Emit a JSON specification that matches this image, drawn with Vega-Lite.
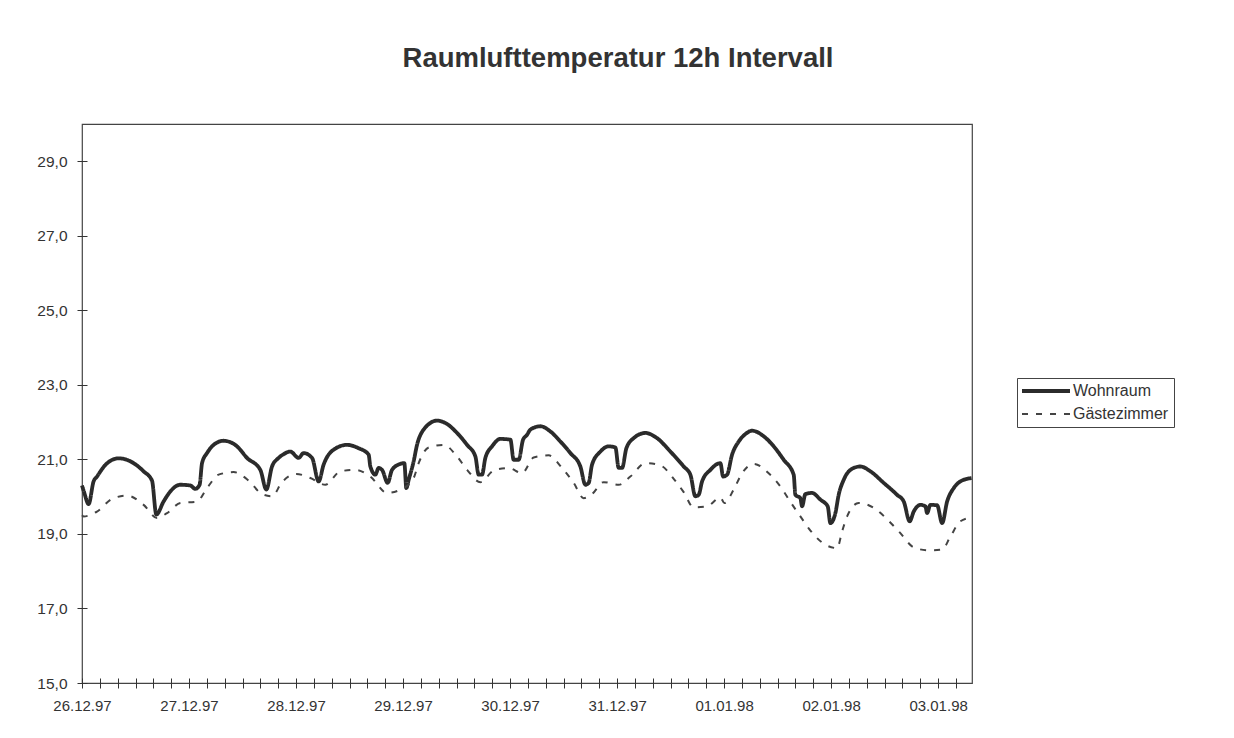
{
  "$schema": "https://vega.github.io/schema/vega-lite/v6.json",
  "width": 890,
  "height": 559,
  "autosize": {"type": "none"},
  "padding": {"left": 82, "top": 124, "right": 262, "bottom": 55},
  "background": "white",
  "title": {"text": "Raumlufttemperatur 12h Intervall", "font": "Liberation Sans", "fontSize": 27.5, "fontWeight": "bold", "color": "#333333", "anchor": "middle", "frame": "group", "dx": 91, "offset": 52},
  "config": {"view": {"stroke": "#444444", "strokeWidth": 1.2}, "font": "Liberation Sans"},
  "data": {"values": [
    {"stunde": 0, "raum": "Wohnraum", "temperatur": 20.30},
    {"stunde": 0.52, "raum": "Wohnraum", "temperatur": 20.10},
    {"stunde": 1.48, "raum": "Wohnraum", "temperatur": 19.80},
    {"stunde": 2.6, "raum": "Wohnraum", "temperatur": 20.41},
    {"stunde": 3.36, "raum": "Wohnraum", "temperatur": 20.54},
    {"stunde": 5.23, "raum": "Wohnraum", "temperatur": 20.85},
    {"stunde": 8.21, "raum": "Wohnraum", "temperatur": 21.03},
    {"stunde": 11.57, "raum": "Wohnraum", "temperatur": 20.90},
    {"stunde": 13.82, "raum": "Wohnraum", "temperatur": 20.68},
    {"stunde": 15.7, "raum": "Wohnraum", "temperatur": 20.43},
    {"stunde": 16.67, "raum": "Wohnraum", "temperatur": 19.52},
    {"stunde": 18.3, "raum": "Wohnraum", "temperatur": 19.87},
    {"stunde": 19.81, "raum": "Wohnraum", "temperatur": 20.14},
    {"stunde": 22.05, "raum": "Wohnraum", "temperatur": 20.32},
    {"stunde": 24.29, "raum": "Wohnraum", "temperatur": 20.30},
    {"stunde": 25.41, "raum": "Wohnraum", "temperatur": 20.21},
    {"stunde": 26.38, "raum": "Wohnraum", "temperatur": 20.32},
    {"stunde": 26.92, "raum": "Wohnraum", "temperatur": 20.90},
    {"stunde": 28.04, "raum": "Wohnraum", "temperatur": 21.17},
    {"stunde": 29.52, "raum": "Wohnraum", "temperatur": 21.39},
    {"stunde": 31.76, "raum": "Wohnraum", "temperatur": 21.50},
    {"stunde": 34.77, "raum": "Wohnraum", "temperatur": 21.35},
    {"stunde": 37.01, "raum": "Wohnraum", "temperatur": 21.04},
    {"stunde": 39.99, "raum": "Wohnraum", "temperatur": 20.72},
    {"stunde": 41.34, "raum": "Wohnraum", "temperatur": 20.19},
    {"stunde": 42.62, "raum": "Wohnraum", "temperatur": 20.81},
    {"stunde": 44.1, "raum": "Wohnraum", "temperatur": 21.04},
    {"stunde": 45.22, "raum": "Wohnraum", "temperatur": 21.14},
    {"stunde": 46.72, "raum": "Wohnraum", "temperatur": 21.21},
    {"stunde": 48.58, "raum": "Wohnraum", "temperatur": 21.04},
    {"stunde": 49.7, "raum": "Wohnraum", "temperatur": 21.17},
    {"stunde": 51.59, "raum": "Wohnraum", "temperatur": 21.04},
    {"stunde": 53.07, "raum": "Wohnraum", "temperatur": 20.41},
    {"stunde": 54.19, "raum": "Wohnraum", "temperatur": 20.86},
    {"stunde": 56.43, "raum": "Wohnraum", "temperatur": 21.26},
    {"stunde": 59.44, "raum": "Wohnraum", "temperatur": 21.39},
    {"stunde": 62.04, "raum": "Wohnraum", "temperatur": 21.30},
    {"stunde": 64.28, "raum": "Wohnraum", "temperatur": 21.13},
    {"stunde": 64.67, "raum": "Wohnraum", "temperatur": 20.81},
    {"stunde": 65.79, "raum": "Wohnraum", "temperatur": 20.59},
    {"stunde": 66.53, "raum": "Wohnraum", "temperatur": 20.77},
    {"stunde": 67.29, "raum": "Wohnraum", "temperatur": 20.72},
    {"stunde": 68.55, "raum": "Wohnraum", "temperatur": 20.37},
    {"stunde": 69.53, "raum": "Wohnraum", "temperatur": 20.72},
    {"stunde": 71.39, "raum": "Wohnraum", "temperatur": 20.88},
    {"stunde": 72.29, "raum": "Wohnraum", "temperatur": 20.90},
    {"stunde": 72.74, "raum": "Wohnraum", "temperatur": 20.23},
    {"stunde": 73.26, "raum": "Wohnraum", "temperatur": 20.45},
    {"stunde": 74.38, "raum": "Wohnraum", "temperatur": 20.95},
    {"stunde": 75.14, "raum": "Wohnraum", "temperatur": 21.39},
    {"stunde": 76.62, "raum": "Wohnraum", "temperatur": 21.80},
    {"stunde": 79.63, "raum": "Wohnraum", "temperatur": 22.04},
    {"stunde": 81.87, "raum": "Wohnraum", "temperatur": 21.95},
    {"stunde": 84.11, "raum": "Wohnraum", "temperatur": 21.71},
    {"stunde": 86.36, "raum": "Wohnraum", "temperatur": 21.39},
    {"stunde": 88.22, "raum": "Wohnraum", "temperatur": 21.08},
    {"stunde": 88.96, "raum": "Wohnraum", "temperatur": 20.59},
    {"stunde": 89.72, "raum": "Wohnraum", "temperatur": 20.59},
    {"stunde": 90.46, "raum": "Wohnraum", "temperatur": 21.04},
    {"stunde": 91.96, "raum": "Wohnraum", "temperatur": 21.35},
    {"stunde": 93.83, "raum": "Wohnraum", "temperatur": 21.55},
    {"stunde": 96.07, "raum": "Wohnraum", "temperatur": 21.53},
    {"stunde": 96.81, "raum": "Wohnraum", "temperatur": 20.99},
    {"stunde": 97.93, "raum": "Wohnraum", "temperatur": 20.99},
    {"stunde": 98.92, "raum": "Wohnraum", "temperatur": 21.53},
    {"stunde": 99.81, "raum": "Wohnraum", "temperatur": 21.66},
    {"stunde": 100.56, "raum": "Wohnraum", "temperatur": 21.80},
    {"stunde": 102.8, "raum": "Wohnraum", "temperatur": 21.89},
    {"stunde": 105.04, "raum": "Wohnraum", "temperatur": 21.75},
    {"stunde": 107.29, "raum": "Wohnraum", "temperatur": 21.48},
    {"stunde": 109.53, "raum": "Wohnraum", "temperatur": 21.17},
    {"stunde": 111.77, "raum": "Wohnraum", "temperatur": 20.81},
    {"stunde": 112.89, "raum": "Wohnraum", "temperatur": 20.32},
    {"stunde": 113.63, "raum": "Wohnraum", "temperatur": 20.37},
    {"stunde": 114.39, "raum": "Wohnraum", "temperatur": 20.86},
    {"stunde": 116.26, "raum": "Wohnraum", "temperatur": 21.21},
    {"stunde": 118.12, "raum": "Wohnraum", "temperatur": 21.35},
    {"stunde": 119.62, "raum": "Wohnraum", "temperatur": 21.32},
    {"stunde": 120.36, "raum": "Wohnraum", "temperatur": 20.77},
    {"stunde": 121.12, "raum": "Wohnraum", "temperatur": 20.77},
    {"stunde": 122.09, "raum": "Wohnraum", "temperatur": 21.30},
    {"stunde": 123.72, "raum": "Wohnraum", "temperatur": 21.57},
    {"stunde": 126.35, "raum": "Wohnraum", "temperatur": 21.71},
    {"stunde": 128.97, "raum": "Wohnraum", "temperatur": 21.57},
    {"stunde": 131.96, "raum": "Wohnraum", "temperatur": 21.21},
    {"stunde": 134.94, "raum": "Wohnraum", "temperatur": 20.81},
    {"stunde": 136.44, "raum": "Wohnraum", "temperatur": 20.59},
    {"stunde": 137.56, "raum": "Wohnraum", "temperatur": 20.01},
    {"stunde": 138.3, "raum": "Wohnraum", "temperatur": 20.05},
    {"stunde": 139.07, "raum": "Wohnraum", "temperatur": 20.41},
    {"stunde": 140.93, "raum": "Wohnraum", "temperatur": 20.72},
    {"stunde": 143.17, "raum": "Wohnraum", "temperatur": 20.90},
    {"stunde": 143.78, "raum": "Wohnraum", "temperatur": 20.54},
    {"stunde": 144.67, "raum": "Wohnraum", "temperatur": 20.59},
    {"stunde": 145.8, "raum": "Wohnraum", "temperatur": 21.13},
    {"stunde": 147.28, "raum": "Wohnraum", "temperatur": 21.48},
    {"stunde": 148.78, "raum": "Wohnraum", "temperatur": 21.68},
    {"stunde": 150.28, "raum": "Wohnraum", "temperatur": 21.77},
    {"stunde": 152.88, "raum": "Wohnraum", "temperatur": 21.62},
    {"stunde": 155.13, "raum": "Wohnraum", "temperatur": 21.35},
    {"stunde": 157.37, "raum": "Wohnraum", "temperatur": 20.99},
    {"stunde": 159.61, "raum": "Wohnraum", "temperatur": 20.59},
    {"stunde": 159.99, "raum": "Wohnraum", "temperatur": 20.05},
    {"stunde": 161.11, "raum": "Wohnraum", "temperatur": 19.96},
    {"stunde": 161.49, "raum": "Wohnraum", "temperatur": 19.74},
    {"stunde": 162.23, "raum": "Wohnraum", "temperatur": 20.07},
    {"stunde": 163.74, "raum": "Wohnraum", "temperatur": 20.10},
    {"stunde": 165.6, "raum": "Wohnraum", "temperatur": 19.92},
    {"stunde": 167.24, "raum": "Wohnraum", "temperatur": 19.74},
    {"stunde": 167.84, "raum": "Wohnraum", "temperatur": 19.29},
    {"stunde": 168.96, "raum": "Wohnraum", "temperatur": 19.56},
    {"stunde": 169.7, "raum": "Wohnraum", "temperatur": 20.05},
    {"stunde": 170.82, "raum": "Wohnraum", "temperatur": 20.45},
    {"stunde": 173.07, "raum": "Wohnraum", "temperatur": 20.77},
    {"stunde": 174.57, "raum": "Wohnraum", "temperatur": 20.81},
    {"stunde": 176.81, "raum": "Wohnraum", "temperatur": 20.68},
    {"stunde": 179.8, "raum": "Wohnraum", "temperatur": 20.37},
    {"stunde": 182.8, "raum": "Wohnraum", "temperatur": 20.05},
    {"stunde": 184.29, "raum": "Wohnraum", "temperatur": 19.87},
    {"stunde": 185.63, "raum": "Wohnraum", "temperatur": 19.34},
    {"stunde": 186.53, "raum": "Wohnraum", "temperatur": 19.60},
    {"stunde": 188.03, "raum": "Wohnraum", "temperatur": 19.78},
    {"stunde": 189.15, "raum": "Wohnraum", "temperatur": 19.74},
    {"stunde": 189.53, "raum": "Wohnraum", "temperatur": 19.56},
    {"stunde": 190.27, "raum": "Wohnraum", "temperatur": 19.78},
    {"stunde": 191.78, "raum": "Wohnraum", "temperatur": 19.77},
    {"stunde": 192.9, "raum": "Wohnraum", "temperatur": 19.29},
    {"stunde": 194.02, "raum": "Wohnraum", "temperatur": 19.87},
    {"stunde": 195.5, "raum": "Wohnraum", "temperatur": 20.23},
    {"stunde": 197.0, "raum": "Wohnraum", "temperatur": 20.41},
    {"stunde": 199.5, "raum": "Wohnraum", "temperatur": 20.50},
    {"stunde": 0, "raum": "Gästezimmer", "temperatur": 19.50},
    {"stunde": 0.36, "raum": "Gästezimmer", "temperatur": 19.47},
    {"stunde": 3.36, "raum": "Gästezimmer", "temperatur": 19.60},
    {"stunde": 6.73, "raum": "Gästezimmer", "temperatur": 19.94},
    {"stunde": 10.09, "raum": "Gästezimmer", "temperatur": 20.03},
    {"stunde": 13.82, "raum": "Gästezimmer", "temperatur": 19.78},
    {"stunde": 16.82, "raum": "Gästezimmer", "temperatur": 19.43},
    {"stunde": 19.07, "raum": "Gästezimmer", "temperatur": 19.56},
    {"stunde": 22.05, "raum": "Gästezimmer", "temperatur": 19.83},
    {"stunde": 25.79, "raum": "Gästezimmer", "temperatur": 19.87},
    {"stunde": 28.04, "raum": "Gästezimmer", "temperatur": 20.23},
    {"stunde": 30.64, "raum": "Gästezimmer", "temperatur": 20.59},
    {"stunde": 34.0, "raum": "Gästezimmer", "temperatur": 20.66},
    {"stunde": 37.37, "raum": "Gästezimmer", "temperatur": 20.43},
    {"stunde": 40.37, "raum": "Gästezimmer", "temperatur": 20.07},
    {"stunde": 42.62, "raum": "Gästezimmer", "temperatur": 20.01},
    {"stunde": 44.86, "raum": "Gästezimmer", "temperatur": 20.39},
    {"stunde": 48.07, "raum": "Gästezimmer", "temperatur": 20.61},
    {"stunde": 51.21, "raum": "Gästezimmer", "temperatur": 20.50},
    {"stunde": 54.57, "raum": "Gästezimmer", "temperatur": 20.32},
    {"stunde": 57.94, "raum": "Gästezimmer", "temperatur": 20.68},
    {"stunde": 61.3, "raum": "Gästezimmer", "temperatur": 20.72},
    {"stunde": 64.67, "raum": "Gästezimmer", "temperatur": 20.54},
    {"stunde": 68.41, "raum": "Gästezimmer", "temperatur": 20.10},
    {"stunde": 71.78, "raum": "Gästezimmer", "temperatur": 20.21},
    {"stunde": 74.38, "raum": "Gästezimmer", "temperatur": 20.50},
    {"stunde": 75.5, "raum": "Gästezimmer", "temperatur": 20.90},
    {"stunde": 77.74, "raum": "Gästezimmer", "temperatur": 21.32},
    {"stunde": 81.11, "raum": "Gästezimmer", "temperatur": 21.39},
    {"stunde": 84.11, "raum": "Gästezimmer", "temperatur": 21.08},
    {"stunde": 86.36, "raum": "Gästezimmer", "temperatur": 20.72},
    {"stunde": 89.34, "raum": "Gästezimmer", "temperatur": 20.39},
    {"stunde": 92.32, "raum": "Gästezimmer", "temperatur": 20.70},
    {"stunde": 95.69, "raum": "Gästezimmer", "temperatur": 20.77},
    {"stunde": 98.69, "raum": "Gästezimmer", "temperatur": 20.63},
    {"stunde": 101.29, "raum": "Gästezimmer", "temperatur": 21.05},
    {"stunde": 104.66, "raum": "Gästezimmer", "temperatur": 21.11},
    {"stunde": 107.66, "raum": "Gästezimmer", "temperatur": 20.77},
    {"stunde": 110.27, "raum": "Gästezimmer", "temperatur": 20.37},
    {"stunde": 112.51, "raum": "Gästezimmer", "temperatur": 19.96},
    {"stunde": 114.39, "raum": "Gästezimmer", "temperatur": 20.07},
    {"stunde": 116.99, "raum": "Gästezimmer", "temperatur": 20.39},
    {"stunde": 120.36, "raum": "Gästezimmer", "temperatur": 20.32},
    {"stunde": 122.98, "raum": "Gästezimmer", "temperatur": 20.54},
    {"stunde": 126.35, "raum": "Gästezimmer", "temperatur": 20.90},
    {"stunde": 129.71, "raum": "Gästezimmer", "temperatur": 20.84},
    {"stunde": 132.7, "raum": "Gästezimmer", "temperatur": 20.48},
    {"stunde": 134.94, "raum": "Gästezimmer", "temperatur": 20.12},
    {"stunde": 137.18, "raum": "Gästezimmer", "temperatur": 19.71},
    {"stunde": 140.19, "raum": "Gästezimmer", "temperatur": 19.74},
    {"stunde": 143.17, "raum": "Gästezimmer", "temperatur": 19.98},
    {"stunde": 144.07, "raum": "Gästezimmer", "temperatur": 19.83},
    {"stunde": 146.15, "raum": "Gästezimmer", "temperatur": 20.19},
    {"stunde": 148.04, "raum": "Gästezimmer", "temperatur": 20.63},
    {"stunde": 150.64, "raum": "Gästezimmer", "temperatur": 20.88},
    {"stunde": 154.0, "raum": "Gästezimmer", "temperatur": 20.63},
    {"stunde": 156.63, "raum": "Gästezimmer", "temperatur": 20.27},
    {"stunde": 158.87, "raum": "Gästezimmer", "temperatur": 19.86},
    {"stunde": 161.11, "raum": "Gästezimmer", "temperatur": 19.47},
    {"stunde": 163.36, "raum": "Gästezimmer", "temperatur": 19.09},
    {"stunde": 166.72, "raum": "Gästezimmer", "temperatur": 18.71},
    {"stunde": 169.35, "raum": "Gästezimmer", "temperatur": 18.62},
    {"stunde": 170.47, "raum": "Gästezimmer", "temperatur": 19.07},
    {"stunde": 171.59, "raum": "Gästezimmer", "temperatur": 19.47},
    {"stunde": 174.19, "raum": "Gästezimmer", "temperatur": 19.83},
    {"stunde": 177.56, "raum": "Gästezimmer", "temperatur": 19.70},
    {"stunde": 180.92, "raum": "Gästezimmer", "temperatur": 19.35},
    {"stunde": 183.54, "raum": "Gästezimmer", "temperatur": 19.02},
    {"stunde": 186.53, "raum": "Gästezimmer", "temperatur": 18.64},
    {"stunde": 189.89, "raum": "Gästezimmer", "temperatur": 18.56},
    {"stunde": 192.9, "raum": "Gästezimmer", "temperatur": 18.58},
    {"stunde": 194.76, "raum": "Gästezimmer", "temperatur": 18.93},
    {"stunde": 197.0, "raum": "Gästezimmer", "temperatur": 19.34},
    {"stunde": 199.5, "raum": "Gästezimmer", "temperatur": 19.44}
  ]},
  "mark": {"type": "line", "interpolate": "monotone", "strokeJoin": "round", "strokeCap": "butt"},
  "encoding": {
    "x": {
      "field": "stunde", "type": "quantitative",
      "scale": {"domain": [0, 199.6], "nice": false, "zero": false},
      "axis": {
        "title": null, "grid": false, "domain": false, "offset": -5, "tickSize": 10,
        "tickColor": "#333333", "tickWidth": 1,
        "values": [0,4,8,12,16,20,24,28,32,36,40,44,48,52,56,60,64,68,72,76,80,84,88,92,96,100,104,108,112,116,120,124,128,132,136,140,144,148,152,156,160,164,168,172,176,180,184,188,192,196],
        "labelExpr": "datum.value % 24 === 0 ? ['26.12.97','27.12.97','28.12.97','29.12.97','30.12.97','31.12.97','01.01.98','02.01.98','03.01.98'][datum.value / 24] : ''",
        "labelFont": "Liberation Sans", "labelFontSize": 15, "labelColor": "#333333",
        "labelPadding": 10, "labelOverlap": false, "labelFlush": false
      }
    },
    "y": {
      "field": "temperatur", "type": "quantitative",
      "scale": {"domain": [15, 30], "nice": false, "zero": false},
      "axis": {
        "title": null, "grid": false, "domain": false, "offset": -5, "tickSize": 10,
        "tickColor": "#333333", "tickWidth": 1,
        "values": [15, 17, 19, 21, 23, 25, 27, 29],
        "labelExpr": "replace(format(datum.value, '.1f'), '.', ',')",
        "labelFont": "Liberation Sans", "labelFontSize": 15.5, "labelColor": "#333333",
        "labelPadding": 10
      }
    },
    "color": {
      "field": "raum", "type": "nominal",
      "sort": ["Wohnraum", "Gästezimmer"],
      "scale": {"domain": ["Wohnraum", "Gästezimmer"], "range": ["#2b2b2b", "#444444"]},
      "legend": {
        "title": null, "orient": "none", "legendX": 935, "legendY": 254,
        "strokeColor": "#444444", "padding": 5, "fillColor": "white",
        "symbolType": "M-4,0H4", "symbolSize": 144, "symbolOffset": 16, "labelOffset": 19,
        "labelFont": "Liberation Sans", "labelFontSize": 16, "labelColor": "#333333",
        "rowPadding": 7
      }
    },
    "strokeDash": {
      "field": "raum", "type": "nominal",
      "sort": ["Wohnraum", "Gästezimmer"],
      "scale": {"domain": ["Wohnraum", "Gästezimmer"], "range": [[1, 0], [6, 8]]}
    },
    "strokeWidth": {
      "field": "raum", "type": "nominal",
      "sort": ["Wohnraum", "Gästezimmer"],
      "scale": {"domain": ["Wohnraum", "Gästezimmer"], "range": [3.8, 2]}
    }
  }
}
